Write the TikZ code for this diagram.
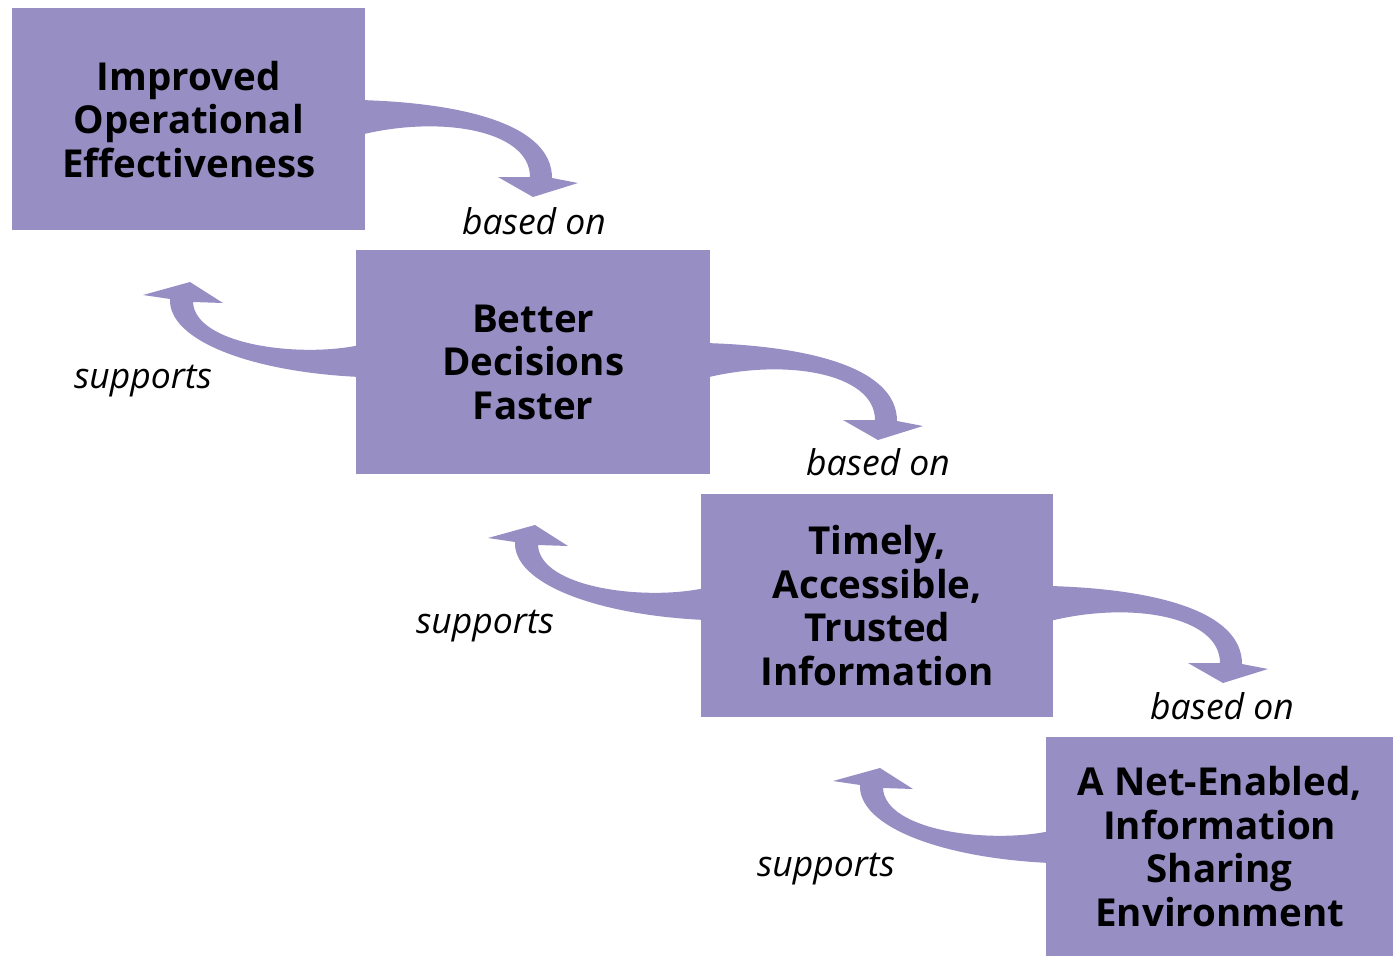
\documentclass[tikz,border=0pt]{standalone}
\usepackage{fontspec}
\setmainfont{Open Sans}
\definecolor{lav}{RGB}{151,142,196}
\begin{document}
\begin{tikzpicture}[x=1pt,y=-1pt,
  box/.style={fill=lav, draw=none, anchor=north west, minimum width=353pt, minimum height=222pt, inner sep=0pt, align=center, font=\bfseries\fontsize{38.5}{43.5}\selectfont},
  lbl/.style={font=\itshape\fontsize{35.5}{40}\selectfont, inner sep=0pt}]
\useasboundingbox (0,0) rectangle (1393,956);
% arrows
\foreach \k in {0,1,2}{
  \begin{scope}[shift={(\k*345,\k*243)}]
    \fill[lav] (360,100) .. controls (465,103) and (552,125) .. (552,178) -- (578,183) -- (533,197) -- (498,177) -- (530,177) .. controls (530,130) and (440,115) .. (360,135) -- cycle;
    \fill[lav] (360,345) .. controls (300,358) and (195,345) .. (193,302) -- (223,303) -- (190,282) -- (143,295) -- (170,299) .. controls (168,340) and (250,372) .. (360,377) -- cycle;
  \end{scope}
}
\node[box] (b1) at (12,8) {Improved\\Operational\\Effectiveness};
\node[box, minimum width=354pt, minimum height=224pt] (b2) at (356,250) {Better\\Decisions\\Faster};
\node[box, minimum width=352pt, minimum height=223pt] (b3) at (701,494) {Timely,\\Accessible,\\Trusted\\Information};
\node[box, minimum width=347pt, minimum height=219pt] (b4) at (1046,737) {A Net-Enabled,\\Information\\Sharing\\Environment};
\node[lbl] (l1) at (534,221) {based on};
\node[lbl] (l2) at (878,462) {based on};
\node[lbl] (l3) at (1222,706) {based on};
\node[lbl] (s1) at (143,381) {supports};
\node[lbl] (s2) at (485,626) {supports};
\node[lbl] (s3) at (826,869) {supports};
\end{tikzpicture}
\end{document}
